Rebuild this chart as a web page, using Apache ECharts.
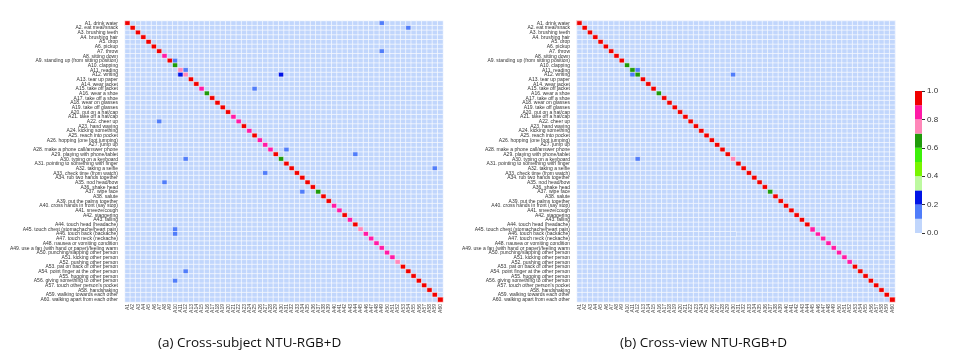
<!DOCTYPE html>
<html>
<head>
<meta charset="utf-8">
<script src="https://cdn.jsdelivr.net/npm/echarts@6/dist/echarts.min.js"></script>
<style>
  html, body { margin: 0; padding: 0; background: #fff; }
  #chart { width: 953px; height: 358px; }
</style>
</head>
<body>
<div id="chart"></div>
<script>
const actionNames = [
  'A1. drink water', 'A2. eat meal/snack', 'A3. brushing teeth', 'A4. brushing hair', 'A5. drop',
  'A6. pickup', 'A7. throw', 'A8. sitting down', 'A9. standing up (from sitting position)', 'A10. clapping',
  'A11. reading', 'A12. writing', 'A13. tear up paper', 'A14. wear jacket', 'A15. take off jacket',
  'A16. wear a shoe', 'A17. take off a shoe', 'A18. wear on glasses', 'A19. take off glasses', 'A20. put on a hat/cap',
  'A21. take off a hat/cap', 'A22. cheer up', 'A23. hand waving', 'A24. kicking something', 'A25. reach into pocket',
  'A26. hopping (one foot jumping)', 'A27. jump up', 'A28. make a phone call/answer phone', 'A29. playing with phone/tablet', 'A30. typing on a keyboard',
  'A31. pointing to something with finger', 'A32. taking a selfie', 'A33. check time (from watch)', 'A34. rub two hands together', 'A35. nod head/bow',
  'A36. shake head', 'A37. wipe face', 'A38. salute', 'A39. put the palms together', 'A40. cross hands in front (say stop)',
  'A41. sneeze/cough', 'A42. staggering', 'A43. falling', 'A44. touch head (headache)', 'A45. touch chest (stomachache/heart pain)',
  'A46. touch back (backache)', 'A47. touch neck (neckache)', 'A48. nausea or vomiting condition', 'A49. use a fan (with hand or paper)/feeling warm', 'A50. punching/slapping other person',
  'A51. kicking other person', 'A52. pushing other person', 'A53. pat on back of other person', 'A54. point finger at the other person', 'A55. hugging other person',
  'A56. giving something to other person', "A57. touch other person's pocket", 'A58. handshaking', 'A59. walking towards each other', 'A60. walking apart from each other'
];
const actionCodes = actionNames.map(n => n.split('.')[0]);

// diagonal accuracy per class
const subjectDiag = [
  0.95, 0.93, 0.96, 0.94, 0.97, 0.95, 0.92, 0.86, 0.91, 0.65,
  0.74, 0.72, 0.94, 0.96, 0.87, 0.66, 0.92, 0.93, 0.92, 0.94,
  0.88, 0.84, 0.91, 0.86, 0.91, 0.87, 0.89, 0.86, 0.92, 0.64,
  0.91, 0.93, 0.92, 0.91, 0.94, 0.95, 0.67, 0.93, 0.92, 0.87,
  0.88, 0.96, 0.89, 0.91, 0.76, 0.85, 0.86, 0.88, 0.85, 0.87,
  0.89, 0.78, 0.93, 0.92, 0.95, 0.94, 0.93, 0.97, 0.95, 0.96
];
const viewDiag = [
  0.97, 0.96, 0.98, 0.95, 0.97, 0.96, 0.95, 0.97, 0.96, 0.68,
  0.62, 0.61, 0.95, 0.97, 0.96, 0.66, 0.95, 0.94, 0.95, 0.96,
  0.95, 0.93, 0.95, 0.94, 0.92, 0.95, 0.97, 0.93, 0.92, 0.77,
  0.93, 0.94, 0.92, 0.93, 0.95, 0.94, 0.68, 0.96, 0.95, 0.93,
  0.92, 0.97, 0.96, 0.91, 0.87, 0.88, 0.86, 0.89, 0.85, 0.88,
  0.87, 0.86, 0.95, 0.96, 0.97, 0.96, 0.95, 0.97, 0.96, 0.98
];
// off-diagonal confusions: [true row, predicted col, value]
const subjectOff = [
  [0, 48, 0.14], [1, 53, 0.15], [6, 48, 0.13], [8, 9, 0.12], [10, 11, 0.16],
  [11, 10, 0.24], [11, 29, 0.23], [14, 24, 0.12], [21, 6, 0.13], [27, 30, 0.12],
  [28, 43, 0.11], [29, 11, 0.17], [31, 58, 0.12], [32, 26, 0.11], [34, 7, 0.12],
  [36, 33, 0.14], [44, 9, 0.13], [45, 9, 0.12], [53, 11, 0.11], [55, 9, 0.12]
];
const viewOff = [
  [10, 11, 0.17], [11, 10, 0.16], [11, 29, 0.13], [29, 11, 0.14]
];
const scaleBreaks = [0, 0.1, 0.2, 0.3, 0.4, 0.5, 0.6, 0.7, 0.8, 0.9, 1.0];
const scaleColors = ['#c1d6fc', '#507dfa', '#0014e6', '#bdf9a0', '#78f500', '#3cf00a', '#1f9b0a', '#ff87b9', '#ff1aa6', '#f00000'];

function buildMatrix(diag, off) {
  const m = actionNames.map(() => actionNames.map(() => 0));
  diag.forEach((v, i) => { m[i][i] = v });
  off.forEach(([r, c, v]) => { m[r][c] = v });
  const out = [];
  m.forEach((row, r) => row.forEach((v, c) => out.push([c, r, v])));
  return out;
}

const chart = echarts.init(document.getElementById('chart'));

const pieces = scaleColors.map((c, i) => ({ min: scaleBreaks[i], max: scaleBreaks[i + 1], color: c }));

const gridTop = 21, gridH = 281, gridW = 318;
const grids = [
  { left: 125, top: gridTop, width: gridW, height: gridH },
  { left: 577, top: gridTop, width: gridW, height: gridH },
  { left: 915, top: 91, width: 7, height: 142 }
];

const catX = i => ({
  type: 'category', gridIndex: i, data: actionCodes, position: 'bottom',
  axisLine: { show: false }, axisTick: { show: false }, splitLine: { show: false },
  axisLabel: { interval: 0, rotate: 90, fontSize: 5, margin: 2, color: '#444', fontFamily: 'Liberation Sans' }
});
const catY = i => ({
  type: 'category', gridIndex: i, data: actionNames, inverse: true,
  axisLine: { show: false }, axisTick: { show: false }, splitLine: { show: false },
  axisLabel: { interval: 0, fontSize: 5, margin: 7, color: '#333', fontFamily: 'Liberation Sans' }
});

const heat = (i, data) => ({
  type: 'heatmap', xAxisIndex: i, yAxisIndex: i, data: data,
  itemStyle: { borderColor: '#ffffff', borderWidth: 0.6 },
  emphasis: { disabled: true }
});

// colour bar drawn as stacked bars on its own value axis
const barSeries = scaleColors.map((c, i) => ({
  type: 'bar', xAxisIndex: 2, yAxisIndex: 2, stack: 'scale', barWidth: '100%',
  data: [scaleBreaks[i + 1] - scaleBreaks[i]], itemStyle: { color: c },
  silent: true
}));

chart.setOption({
  animation: false,
  title: [
    { text: '(a) Cross-subject NTU-RGB+D', left: 153, top: 331,
      textStyle: { fontSize: 13.5, fontWeight: 'normal', color: '#111', fontFamily: 'Open Sans' } },
    { text: '(b) Cross-view NTU-RGB+D', left: 615, top: 331,
      textStyle: { fontSize: 13.5, fontWeight: 'normal', color: '#111', fontFamily: 'Open Sans' } }
  ],
  grid: grids,
  xAxis: [catX(0), catX(1),
    { type: 'category', gridIndex: 2, data: ['scale'], show: false }],
  yAxis: [catY(0), catY(1),
    { type: 'value', gridIndex: 2, min: 0, max: 1, interval: 0.2, position: 'right',
      axisLine: { show: false }, splitLine: { show: false },
      axisTick: { show: true, length: 3, lineStyle: { color: '#333' } },
      axisLabel: { fontSize: 8, margin: 5, color: '#333', fontFamily: 'Liberation Sans', formatter: v => v.toFixed(1) } }],
  visualMap: {
    type: 'piecewise', show: false, seriesIndex: [0, 1], dimension: 2,
    pieces: pieces
  },
  series: [
    heat(0, buildMatrix(subjectDiag, subjectOff)),
    heat(1, buildMatrix(viewDiag, viewOff)),
    ...barSeries
  ]
});
</script>
</body>
</html>
